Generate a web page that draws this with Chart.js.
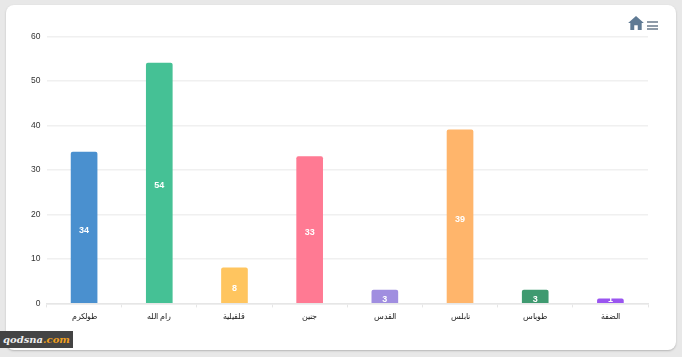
<!DOCTYPE html>
<html>
<head>
<meta charset="utf-8">
<script src="https://cdn.jsdelivr.net/npm/chart.js@4"></script>
<style>
  html, body { margin: 0; padding: 0; }
  body { width: 682px; height: 357px; background: #e8e8e8; position: relative; overflow: hidden; font-family: "Liberation Sans", Arial, sans-serif; }
  .card { position: absolute; left: 6px; top: 5px; width: 670px; height: 345px; background: #fff; border-radius: 8px; box-shadow: 0 1px 2px #b5b5b5; }
  #chart { position: absolute; left: 0; top: 0; }
  .home { position: absolute; left: 628px; top: 16px; }
  .menu { position: absolute; left: 647px; top: 21px; width: 11px; height: 9px; border-top: 2px solid #8f9ba8; border-bottom: 2px solid #8f9ba8; box-sizing: border-box; }
  .menu:after { content: ""; position: absolute; left: 0; right: 0; top: 1.5px; height: 2px; background: #8f9ba8; }
  .brand { position: absolute; left: 0; top: 331px; width: 73px; height: 17px; background: #444; color: #eee; font: italic bold 10px/17px "DejaVu Serif", serif; text-align: center; }
  .brand span { color: #f0a020; }
</style>
</head>
<body>
<div class="card"></div>
<canvas id="chart" width="682" height="357"></canvas>
<svg class="home" width="16" height="14" viewBox="0 0 18 16"><path fill="#5f7a94" d="M9 0 L18 8 L15.5 8 L15.5 16 L11 16 L11 10.5 L7 10.5 L7 16 L2.5 16 L2.5 8 L0 8 Z"/></svg>
<div class="menu"></div>
<div class="brand">qodsna<span>.com</span></div>

<script>
const categories = ["طولكرم", "رام الله", "قلقيلية", "جنين", "القدس", "نابلس", "طوباس", "الضفة"];
const values = [34, 54, 8, 33, 3, 39, 3, 1];
const colors = ["#4a90cf", "#45c195", "#ffc55f", "#ff7a93", "#a08ee0", "#ffb56b", "#3f9a70", "#9a55f0"];

const valueLabels = {
  id: "valueLabels",
  afterDatasetsDraw(chart) {
    const ctx = chart.ctx;
    const meta = chart.getDatasetMeta(0);
    ctx.save();
    ctx.font = "bold 9px 'Liberation Sans', Arial, sans-serif";
    ctx.fillStyle = "#fff";
    ctx.textAlign = "center";
    ctx.textBaseline = "middle";
    meta.data.forEach((bar, i) => {
      // labels sit a little under the middle of the bar, but stay above the axis
      const y = Math.min((bar.y + bar.base) / 2 + 3, bar.base - 3);
      ctx.fillText(values[i], bar.x, y);
    });
    ctx.restore();
  }
};

new Chart(document.getElementById("chart"), {
  type: "bar",
  data: {
    labels: categories,
    datasets: [{
      data: values,
      backgroundColor: colors,
      borderRadius: 2,
      borderSkipped: "bottom",
      barThickness: 26
    }]
  },
  options: {
    responsive: false,
    animation: false,
    layout: { padding: { left: 0, right: 34, top: 36.5, bottom: 30 } },
    plugins: { legend: { display: false }, tooltip: { enabled: false } },
    scales: {
      x: {
        grid: { display: true, drawOnChartArea: false, color: "#e6e6e6", tickLength: 4 },
        border: { color: "#e6e6e6", width: 1.5 },
        ticks: { color: "#222", font: { size: 8, family: "'Liberation Sans', Arial, sans-serif" }, maxRotation: 0, padding: 5 }
      },
      y: {
        min: 0,
        max: 60,
        afterFit(scale) { scale.width = 46.5; },
        grid: { color: "#f0f0f0", lineWidth: 1.5, drawTicks: false },
        border: { display: false },
        ticks: { stepSize: 10, color: "#333", font: { size: 8.5, family: "'Liberation Sans', Arial, sans-serif" }, padding: 6 }
      }
    }
  },
  plugins: [valueLabels]
});
</script>
</body>
</html>
